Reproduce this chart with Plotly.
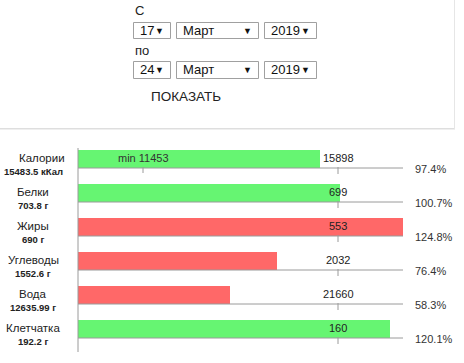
import plotly.graph_objects as go

# ---- data ----
names = ["Калории", "Белки", "Жиры", "Углеводы", "Вода", "Клетчатка"]
amounts = ["15483.5 кКал", "703.8 г", "690 г", "1552.6 г", "12635.99 г", "192.2 г"]
norms = ["15898", "699", "553", "2032", "21660", "160"]
pct_labels = ["97.4%", "100.7%", "124.8%", "76.4%", "58.3%", "120.1%"]
bar_pct = [93.1, 100.7, 125.0, 76.4, 58.3, 120.1]
status = ["ok", "ok", "over", "under", "under", "ok"]
min_label = "min 11453"
min_pct = 25.0
norm_pct = 100.0
max_pct = 125.0

date_from = ["17", "Март", "2019"]
date_to = ["24", "Март", "2019"]

W, H = 464, 363
GREEN = "#66f572"
RED = "#ff6868"
GRAY = "#9a9a9a"
FONT = "Liberation Sans, Arial, sans-serif"

colors = [GREEN if s == "ok" else RED for s in status]
ypos = list(range(len(names)))

fig = go.Figure()
fig.add_trace(go.Bar(
    x=bar_pct, y=ypos, orientation="h", marker=dict(color=colors, line=dict(width=0)),
    width=18 / 34, hoverinfo="skip", showlegend=False,
))

x0px, x1px = 78, 403
y_top = -159 / 34
y_bot = (H - 159) / 34

fig.update_layout(
    width=W, height=H, margin=dict(l=0, r=0, t=0, b=0),
    paper_bgcolor="white", plot_bgcolor="rgba(0,0,0,0)",
    xaxis=dict(domain=[x0px / W, x1px / W], range=[0, max_pct], visible=False, fixedrange=True),
    yaxis=dict(domain=[0, 1], range=[y_bot, y_top], visible=False, fixedrange=True),
    showlegend=False, bargap=0,
    font=dict(family=FONT),
)


def px(x):
    return x / W


def py(y):
    return 1 - y / H


shapes = []
ann = []
half = 9 / 34
for i in ypos:
    base = i + half
    shapes.append(dict(type="line", xref="x", yref="y", x0=0, x1=max_pct, y0=base, y1=base,
                       line=dict(color=GRAY, width=1)))
    shapes.append(dict(type="line", xref="x", yref="y", x0=norm_pct, x1=norm_pct, y0=base - 1 / 34,
                       y1=base + 6 / 34, line=dict(color=GRAY, width=1)))
    ann.append(dict(x=norm_pct, y=i - 0.03, xref="x", yref="y", text=norms[i], showarrow=False,
                    font=dict(size=11, color="#222"), xanchor="center", yanchor="middle"))
    ann.append(dict(x=px(413), y=base + 1 / 34, xref="paper", yref="y", text=pct_labels[i],
                    showarrow=False, font=dict(size=11, color="#333"), xanchor="left", yanchor="middle"))
    ann.append(dict(x=px(42 if i == 0 else 33), y=i - 0.03, xref="paper", yref="y", text=names[i],
                    showarrow=False, font=dict(size=11.5, color="#222"), xanchor="center", yanchor="middle"))
    ann.append(dict(x=px(33), y=i + 0.36, xref="paper", yref="y", text="<b>" + amounts[i] + "</b>",
                    showarrow=False, font=dict(size=9.5, color="#222"), xanchor="center", yanchor="middle"))

# min marker on first row
shapes.append(dict(type="line", xref="x", yref="y", x0=min_pct, x1=min_pct, y0=half - 1 / 34,
                   y1=half + 5 / 34, line=dict(color=GRAY, width=1)))
ann.append(dict(x=min_pct, y=-0.03, xref="x", yref="y", text=min_label, showarrow=False,
                font=dict(size=11, color="#333"), xanchor="center", yanchor="middle"))

# vertical axis line
shapes.append(dict(type="line", xref="paper", yref="paper", x0=px(x0px), x1=px(x0px),
                   y0=py(148), y1=py(352), line=dict(color=GRAY, width=1)))

# ---- top form panel ----
shapes.append(dict(type="line", xref="paper", yref="paper", x0=0, x1=px(454), y0=py(128.5), y1=py(128.5),
                   line=dict(color="#dedede", width=1)))
shapes.append(dict(type="line", xref="paper", yref="paper", x0=0, x1=px(455), y0=py(129.5), y1=py(129.5),
                   line=dict(color="#efefef", width=1)))
shapes.append(dict(type="line", xref="paper", yref="paper", x0=px(454.5), x1=px(454.5), y0=py(0), y1=py(129),
                   line=dict(color="#e6e6e6", width=1)))

ann.append(dict(x=px(133), y=py(11), xref="paper", yref="paper", text="С", showarrow=False,
                font=dict(size=13, color="#222"), xanchor="left", yanchor="middle"))
ann.append(dict(x=px(133), y=py(51), xref="paper", yref="paper", text="по", showarrow=False,
                font=dict(size=13, color="#222"), xanchor="left", yanchor="middle"))

boxes = [(133, 171), (176, 259), (264, 317)]
for (ytop, ybot, vals) in [(22, 39, date_from), (61, 79, date_to)]:
    ymid = (ytop + ybot) / 2
    for (bx0, bx1), v in zip(boxes, vals):
        shapes.append(dict(type="rect", xref="paper", yref="paper", x0=px(bx0 + 0.5), x1=px(bx1 - 0.5),
                           y0=py(ytop + 0.5), y1=py(ybot - 0.5), line=dict(color="#a0a0a0", width=1),
                           fillcolor="white"))
        ann.append(dict(x=px(bx0 + 5), y=py(ymid), xref="paper", yref="paper", text=v, showarrow=False,
                        font=dict(size=13, color="#111"), xanchor="left", yanchor="middle"))
        ann.append(dict(x=px(bx1 - 5), y=py(ymid), xref="paper", yref="paper", text="▼", showarrow=False,
                        font=dict(size=9, color="#111"), xanchor="right", yanchor="middle"))

ann.append(dict(x=px(149), y=py(97), xref="paper", yref="paper", text="ПОКАЗАТЬ", showarrow=False,
                font=dict(size=13.5, color="#222"), xanchor="left", yanchor="middle"))

fig.update_layout(shapes=shapes, annotations=ann)
fig.write_html("out.html", config={"displayModeBar": False, "staticPlot": True},
               post_script="document.body.style.margin='0';document.body.style.overflow='hidden';")
